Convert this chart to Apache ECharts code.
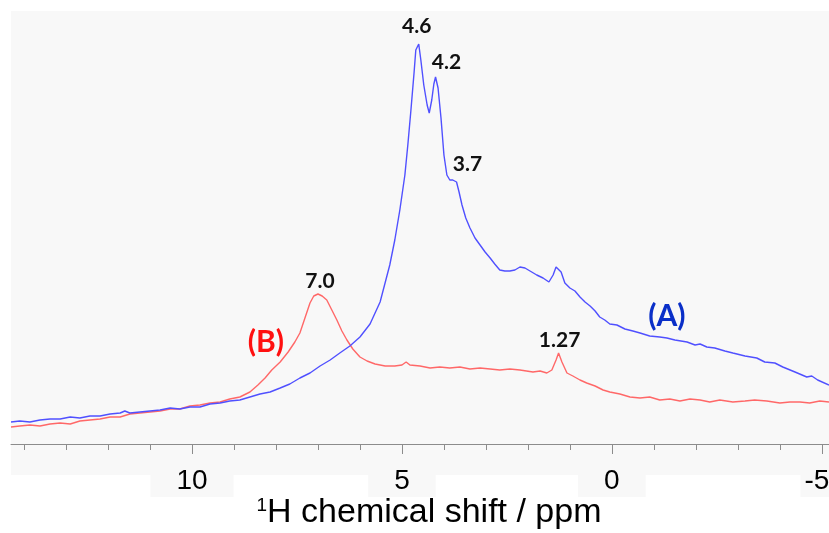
<!DOCTYPE html>
<html>
<head>
<meta charset="utf-8">
<script src="https://cdn.jsdelivr.net/npm/echarts@6/dist/echarts.min.js"></script>
<style>
  html, body { margin: 0; padding: 0; background: #ffffff; }
  #chart { width: 829px; height: 533px; }
</style>
</head>
<body>
<div id="chart"></div>
<script>
// 1H NMR spectra: chemical shift (ppm) against intensity (arbitrary units)
const blueShift = [14.31, 14.10, 13.86, 13.62, 13.38, 13.14, 12.90, 12.67, 12.43, 12.19, 11.95, 11.71, 11.60, 11.48, 11.24, 11.00, 10.76, 10.52, 10.29, 10.05, 9.81, 9.57, 9.33, 9.10, 8.86, 8.62, 8.38, 8.14, 7.90, 7.67, 7.43, 7.19, 6.95, 6.71, 6.48, 6.24, 6.00, 5.76, 5.52, 5.29, 5.17, 5.05, 4.93, 4.86, 4.79, 4.71, 4.67, 4.60, 4.55, 4.48, 4.40, 4.35, 4.29, 4.24, 4.20, 4.14, 4.07, 4.00, 3.93, 3.86, 3.79, 3.70, 3.64, 3.57, 3.48, 3.38, 3.26, 3.14, 3.02, 2.90, 2.79, 2.67, 2.55, 2.43, 2.31, 2.19, 2.07, 1.95, 1.79, 1.64, 1.50, 1.40, 1.33, 1.29, 1.21, 1.12, 1.00, 0.88, 0.76, 0.64, 0.52, 0.40, 0.29, 0.17, 0.05, -0.12, -0.31, -0.50, -0.67, -0.90, -1.14, -1.31, -1.50, -1.79, -1.98, -2.10, -2.26, -2.45, -2.69, -2.88, -3.17, -3.45, -3.64, -3.88, -4.07, -4.36, -4.64, -4.76, -4.90, -5.17];
const blueIntensity = [22, 23, 22, 24, 25, 25, 27, 26, 28, 28, 30, 31, 33, 31, 32, 33, 34, 36, 35, 37, 37, 40, 41, 43, 44, 47, 50, 52, 56, 60, 66, 71, 78, 84, 91, 98, 107, 120, 142, 179, 204, 234, 269, 299, 332, 372, 394, 400, 384, 359, 339, 331, 344, 360, 367, 356, 326, 289, 269, 264, 264, 262, 252, 239, 226, 216, 206, 199, 192, 186, 180, 174, 173, 173, 174, 177, 176, 173, 169, 166, 162, 169, 177, 179, 172, 161, 156, 153, 147, 142, 138, 133, 127, 124, 120, 119, 115, 113, 111, 108, 107, 106, 104, 102, 99, 100, 97, 96, 93, 91, 88, 86, 82, 81, 77, 72, 67, 68, 64, 59];

const redShift = [14.31, 14.10, 13.86, 13.62, 13.38, 13.14, 12.90, 12.67, 12.43, 12.19, 11.95, 11.71, 11.48, 11.24, 11.00, 10.76, 10.52, 10.29, 10.05, 9.81, 9.57, 9.33, 9.10, 8.86, 8.62, 8.43, 8.26, 8.10, 7.90, 7.71, 7.55, 7.43, 7.31, 7.19, 7.10, 7.00, 6.90, 6.79, 6.67, 6.55, 6.43, 6.31, 6.17, 6.00, 5.83, 5.64, 5.40, 5.17, 5.00, 4.90, 4.81, 4.57, 4.33, 4.10, 3.86, 3.62, 3.38, 3.14, 2.90, 2.67, 2.43, 2.19, 1.88, 1.71, 1.55, 1.43, 1.33, 1.27, 1.19, 1.07, 0.93, 0.76, 0.60, 0.40, 0.21, 0.05, -0.19, -0.43, -0.67, -0.90, -1.14, -1.38, -1.62, -1.86, -2.10, -2.33, -2.57, -2.88, -3.17, -3.40, -3.69, -4.00, -4.24, -4.48, -4.71, -4.95, -5.17];
const redIntensity = [17, 18, 19, 18, 20, 21, 20, 23, 24, 25, 27, 27, 30, 31, 32, 33, 35, 35, 38, 39, 41, 42, 45, 47, 52, 59, 66, 74, 82, 92, 102, 111, 126, 141, 148, 150, 148, 144, 134, 124, 113, 104, 95, 87, 83, 80, 78, 78, 79, 82, 79, 78, 76, 77, 76, 77, 75, 76, 75, 74, 75, 74, 72, 73, 71, 74, 84, 91, 82, 71, 68, 64, 61, 58, 54, 52, 50, 47, 46, 47, 44, 45, 43, 45, 44, 42, 44, 42, 43, 44, 43, 41, 42, 42, 41, 43, 42];

// labelled peak positions (ppm)
const bluePeaks = [4.6, 4.2, 3.7];
const redPeaks = [7.0, 1.27];

// axis ticks (ppm)
const tickLabels = [10, 5, 0, -5];
const minorTicks = [14, 13, 12, 11, 10, 9, 8, 7, 6, 5, 4, 3, 2, 1, 0, -1, -2, -3, -4, -5];

const BLUE = '#5050ff';
const RED = '#ff6868';
const AXIS = '#8c8c8c';
const PANEL = '#f8f8f8';

function pairs(xs, ys) {
  return xs.map((x, i) => [x, ys[i]]);
}

function peakMarks(xs, ys, peaks, offsets) {
  return peaks.map((p, k) => {
    const i = xs.indexOf(p);
    return {
      name: p.toFixed(p === 1.27 ? 2 : 1),
      coord: [p, ys[i]],
      label: { offset: offsets[k] }
    };
  });
}

const peakLabel = {
  show: true,
  position: 'inside',
  formatter: '{b}',
  fontFamily: 'Lato',
  fontWeight: 'bold',
  fontSize: 21,
  color: '#111111'
};

const chart = echarts.init(document.getElementById('chart'), null, { renderer: 'canvas' });

chart.setOption({
  animation: false,
  backgroundColor: '#ffffff',
  grid: {
    left: 11, right: 0, top: 11, bottom: 89,
    containLabel: false,
    outerBoundsMode: 'none',
    show: true, backgroundColor: PANEL, borderWidth: 0
  },
  graphic: [{
    type: 'rect',
    left: 11, top: 444,
    shape: { width: 818, height: 31 },
    style: { fill: PANEL },
    silent: true,
    z: -1
  }],
  xAxis: [{
    type: 'value',
    inverse: true,
    min: -5.17,
    max: 14.31,
    position: 'bottom',
    splitLine: { show: false },
    axisLine: { show: true, onZero: false, lineStyle: { color: AXIS, width: 1 } },
    axisTick: { show: true, customValues: minorTicks, length: 6, lineStyle: { color: AXIS } },
    axisLabel: {
      customValues: tickLabels,
      margin: 24,
      formatter: v => (v === -5 ? '{e|-5}' : '{n|' + v + '}'),
      rich: {
        n: { fontFamily: 'Liberation Sans', fontSize: 28, lineHeight: 28, color: '#000', backgroundColor: PANEL, padding: [0, 26, 2, 26] },
        e: { fontFamily: 'Liberation Sans', fontSize: 28, lineHeight: 28, color: '#000', backgroundColor: PANEL, padding: [0, 14, 2, 4] }
      }
    },
    name: '{s|1}{t|H chemical shift / ppm}',
    nameLocation: 'middle',
    nameGap: 52,
    nameMoveOverlap: false,
    nameTextStyle: {
      padding: [0, 0, 0, 18],
      rich: {
        s: { fontFamily: 'Liberation Sans', fontSize: 19, lineHeight: 19, verticalAlign: 'top', color: '#000' },
        t: { fontFamily: 'Liberation Sans', fontSize: 34, lineHeight: 34, color: '#000' }
      }
    }
  }, {
    type: 'value',
    inverse: true,
    min: -5.17,
    max: 14.31,
    position: 'bottom',
    splitLine: { show: false },
    axisLine: { show: false },
    axisTick: { show: true, customValues: tickLabels, length: 10, lineStyle: { color: AXIS } },
    axisLabel: { show: false }
  }],
  yAxis: {
    type: 'value',
    min: 0,
    max: 433,
    show: false,
    splitLine: { show: false }
  },
  series: [{
    name: '(A)',
    type: 'line',
    xAxisIndex: 0,
    data: pairs(blueShift, blueIntensity),
    showSymbol: false,
    lineStyle: { color: BLUE, width: 1.4 },
    z: 3,
    markPoint: {
      symbol: 'circle',
      symbolSize: 1,
      itemStyle: { color: 'rgba(0,0,0,0)' },
      label: peakLabel,
      data: peakMarks(blueShift, blueIntensity, bluePeaks, [[-2, -18], [11, -15], [11, -18]]).concat([{
        name: '(A)',
        coord: [-1.31, 128],
        label: { fontSize: 30, color: '#0a2fc8', offset: [0, 0] }
      }])
    }
  }, {
    name: '(B)',
    type: 'line',
    xAxisIndex: 0,
    data: pairs(redShift, redIntensity),
    showSymbol: false,
    lineStyle: { color: RED, width: 1.4 },
    z: 2,
    markPoint: {
      symbol: 'circle',
      symbolSize: 1,
      itemStyle: { color: 'rgba(0,0,0,0)' },
      label: peakLabel,
      data: peakMarks(redShift, redIntensity, redPeaks, [[2, -13], [1, -13]]).concat([{
        name: '(B)',
        coord: [8.24, 102],
        label: { fontSize: 30, color: '#ff1010', offset: [0, 0] }
      }])
    }
  }]
});
</script>
</body>
</html>
